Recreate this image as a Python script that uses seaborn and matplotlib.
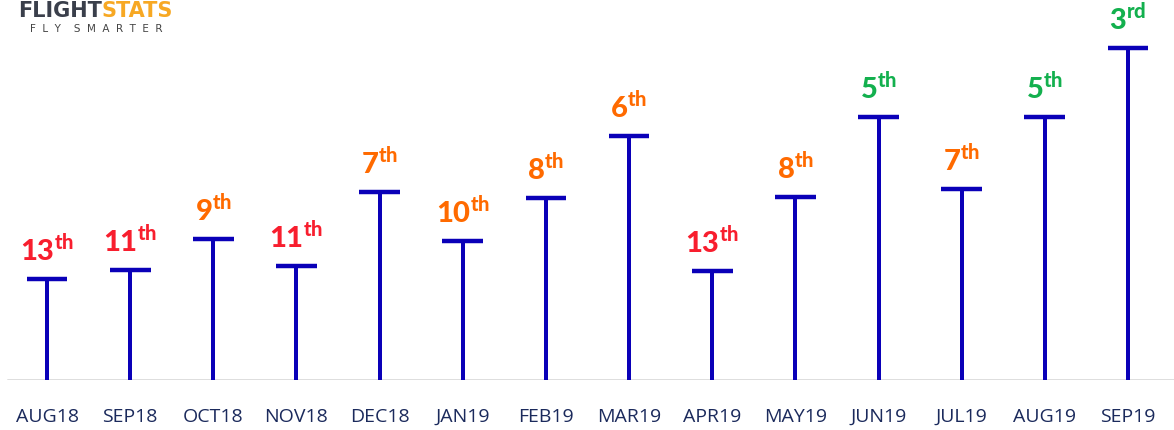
import matplotlib
matplotlib.use("Agg")
import matplotlib.pyplot as plt
import seaborn as sns
import numpy as np

months = ["AUG18", "SEP18", "OCT18", "NOV18", "DEC18", "JAN19", "FEB19",
          "MAR19", "APR19", "MAY19", "JUN19", "JUL19", "AUG19", "SEP19"]
values = [101, 110, 141, 114, 188, 139, 182, 244, 109, 183, 263, 191, 263, 332]
rank_num = ["13", "11", "9", "11", "7", "10", "8", "6", "13", "8", "5", "7", "5", "3"]
rank_suffix = ["th", "th", "th", "th", "th", "th", "th", "th", "th", "th", "th", "th", "th", "rd"]
rank_tier = ["low", "low", "mid", "low", "mid", "mid", "mid", "mid", "low", "mid", "top", "mid", "top", "top"]

tier_colors = {"low": "#F81E2E", "mid": "#FF6A00", "top": "#13B04E"}
stem_color = "#0A00B8"
tick_color = "#1B2A5C"

sns.set_theme(style="white")
plt.rcParams["mathtext.fontset"] = "custom"
plt.rcParams["mathtext.bf"] = "Lato:black"
plt.rcParams["mathtext.rm"] = "Lato:black"

W, H = 1174, 430
fig = plt.figure(figsize=(W / 100, H / 100), dpi=100)
ax = fig.add_axes([0, 50 / H, 1, 380 / H])

sns.barplot(x=months, y=values, width=0.048, color=stem_color, saturation=1,
            ax=ax, edgecolor="none")

xs = np.arange(len(months))
ax.hlines(values, xs - 0.245, xs + 0.245, color=stem_color, lw=3.2, zorder=4)

for x, v, n, s, t in zip(xs, values, rank_num, rank_suffix, rank_tier):
    ax.text(x, v + 12, r"$\mathbf{%s}^{\mathbf{%s}}$" % (n, s),
            ha="center", va="bottom", fontsize=21, color=tier_colors[t])

ax.axhline(0, xmin=8 / W, xmax=1, color="#dedede", lw=1.4, zorder=0)

ax.set_xlim(-47 / 83.15, 13 + 46 / 83.15)
ax.set_ylim(0, 380)
ax.set_yticks([])
ax.set_xlabel("")
ax.set_ylabel("")
ax.tick_params(axis="x", length=0, pad=20, labelsize=14, labelcolor=tick_color)
for lab in ax.get_xticklabels():
    lab.set_fontfamily("Open Sans")
for sp in ax.spines.values():
    sp.set_visible(False)
ax.patch.set_alpha(0)

t1 = fig.text(18 / W, 1 - 17 / H, "FLIGHT", fontsize=15, fontweight="bold",
              color="#3A3F4B", va="baseline", ha="left", family="DejaVu Sans")
fig.canvas.draw()
bb = t1.get_window_extent()
fig.text(bb.x1 / W, 1 - 17 / H, "STATS", fontsize=15, fontweight="bold",
         color="#F7A823", va="baseline", ha="left", family="DejaVu Sans")
fig.text(30 / W, 1 - 32 / H, "F  L  Y    S  M  A  R  T  E  R", fontsize=7.5,
         color="#444444", va="baseline", ha="left", family="DejaVu Sans")

fig.savefig("out.png", dpi=100)
